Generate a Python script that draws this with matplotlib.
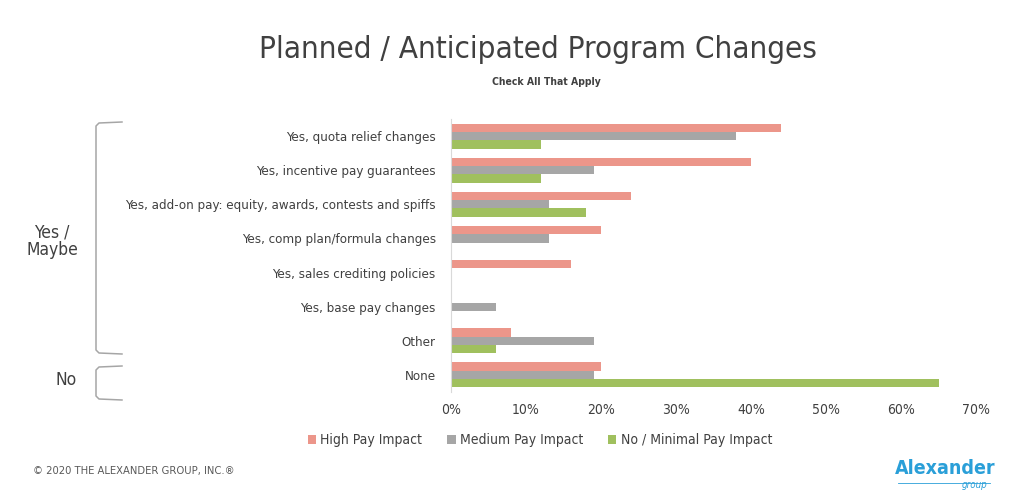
import numpy as np
import matplotlib
matplotlib.use('Agg')
from matplotlib import pyplot as plt
from matplotlib.ticker import FuncFormatter

plt.rcParams['font.family'] = ['DejaVu Sans']
plt.rcParams['font.stretch'] = 'condensed'

categories = ['Yes, quota relief changes',
              'Yes, incentive pay guarantees',
              'Yes, add-on pay: equity, awards, contests and spiffs',
              'Yes, comp plan/formula changes',
              'Yes, sales crediting policies',
              'Yes, base pay changes',
              'Other',
              'None']
high_pay = [44, 40, 24, 20, 16, 0, 8, 20]
medium_pay = [38, 19, 13, 13, 0, 6, 19, 19]
minimal_pay = [12, 12, 18, 0, 0, 0, 6, 65]
series_names = ['High Pay Impact', 'Medium Pay Impact', 'No / Minimal Pay Impact']
colors = ['#EC968A', '#A6A6A6', '#A0C05E']
x_ticks = [0, 10, 20, 30, 40, 50, 60, 70]

text_col = '#404040'

fig = plt.figure(figsize=(10.24, 5.01), dpi=100)
ax = fig.add_axes([451/1024, 1 - 392/501, 525/1024, 273/501])

y = np.arange(len(categories))
h = 0.245
for i, (vals, name, c) in enumerate(zip([high_pay, medium_pay, minimal_pay], series_names, colors)):
    ax.barh(y + (i - 1) * h, vals, height=h, color=c, label=name)

ax.set_ylim(len(categories) - 0.5, -0.5)
ax.set_xlim(0, 70)
ax.set_xticks(x_ticks)
ax.xaxis.set_major_formatter(FuncFormatter(lambda v, p: f'{int(v)}%'))
ax.set_yticks(y)
ax.set_yticklabels(categories)
ax.tick_params(axis='y', length=0, pad=11, labelsize=9.5, labelcolor=text_col)
ax.tick_params(axis='x', length=0, pad=8, labelsize=10, labelcolor=text_col)
for s in ['top', 'right', 'bottom']:
    ax.spines[s].set_visible(False)
ax.spines['left'].set_color('#D9D9D9')

fig.text(538/1024, 1 - 50/501, 'Planned / Anticipated Program Changes',
         ha='center', va='center', fontsize=22.5, color=text_col)
fig.text(546/1024, 1 - 82/501, 'Check All That Apply', ha='center', va='center',
         fontsize=7.5, fontweight='bold', color=text_col)

leg = fig.legend(loc='center', bbox_to_anchor=(540/1024, 1 - 440/501), ncol=3,
                 frameon=False, fontsize=10, handlelength=0.6, handleheight=0.6,
                 handletextpad=0.3, columnspacing=1.8, labelcolor=text_col)

# overlay for brackets, group labels, footer
ov = fig.add_axes([0, 0, 1, 1], zorder=-1)
ov.set_xlim(0, 1024)
ov.set_ylim(501, 0)
ov.axis('off')
bc = '#A6A6A6'
for top, bot in [(122, 354), (366, 400)]:
    ov.plot([122, 99, 96, 96, 99, 122], [top, top + 1, top + 4, bot - 4, bot - 1, bot],
            color=bc, lw=1.1)
ov.text(52, 241, 'Yes /\nMaybe', ha='center', va='center', fontsize=12.5,
        color=text_col, linespacing=0.95)
ov.text(66, 380, 'No', ha='center', va='center', fontsize=12.5, color=text_col)

ov.text(33, 471, '\u00a9 2020 THE ALEXANDER GROUP, INC.\u00ae', ha='left', va='center',
        fontsize=8, color='#595959')
ov.text(945, 469, 'Alexander', ha='center', va='center', fontsize=14,
        fontweight='bold', color='#2A9FD8')
ov.plot([898, 990], [483, 483], color='#2A9FD8', lw=0.6)
ov.text(975, 485, 'group', ha='center', va='center', fontsize=7, style='italic',
        color='#2A9FD8')

fig.savefig('out.png', dpi=100)
